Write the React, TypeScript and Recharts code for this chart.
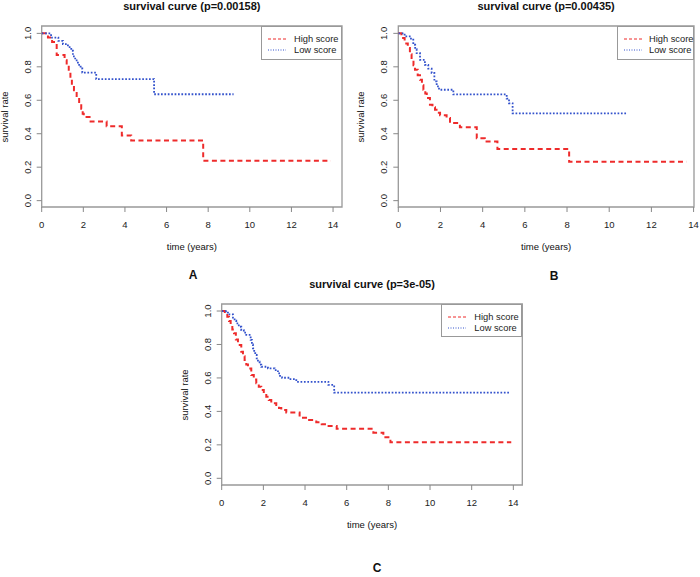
import { LineChart, Line, XAxis, YAxis, ReferenceArea, Legend } from 'recharts';

const FONT = '"Liberation Sans", Arial, Helvetica, sans-serif';
const HIGH_COLOR = '#ee2b2b';
const LOW_COLOR = '#3352cc';
const BOX = '#999';

const timeTicks = [0, 2, 4, 6, 8, 10, 12, 14];
const rateTicks = [0, 0.2, 0.4, 0.6, 0.8, 1.0];
const seriesNames = ['High score', 'Low score'];

// panel A
const aHighTime = [0, 0.3, 0.5, 0.72, 1.1, 1.2, 1.3, 1.38, 1.45, 1.55, 1.68, 1.8, 1.9, 1.97, 2.02, 2.35, 3.12, 3.85, 4.3, 7.76, 13.9];
const aHighRate = [1, 0.975, 0.948, 0.87, 0.84, 0.8, 0.77, 0.73, 0.69, 0.66, 0.62, 0.59, 0.55, 0.52, 0.5, 0.473, 0.444, 0.39, 0.359, 0.239, 0.239];
const aLowTime = [0, 0.45, 0.8, 1.02, 1.26, 1.42, 1.5, 1.61, 1.74, 1.87, 1.95, 2.62, 5.4, 9.22];
const aLowRate = [1, 0.975, 0.955, 0.936, 0.918, 0.896, 0.862, 0.838, 0.812, 0.79, 0.765, 0.727, 0.636, 0.636];

// panel B
const bHighTime = [0, 0.15, 0.3, 0.45, 0.55, 0.63, 0.72, 0.79, 0.92, 1.03, 1.12, 1.19, 1.28, 1.35, 1.5, 1.62, 1.74, 1.86, 1.98, 2.29, 2.45, 2.92, 3.72, 4.1, 4.7, 8.1, 13.67];
const bHighRate = [1, 0.972, 0.94, 0.912, 0.875, 0.842, 0.81, 0.783, 0.75, 0.723, 0.69, 0.663, 0.64, 0.613, 0.573, 0.558, 0.544, 0.525, 0.51, 0.494, 0.464, 0.438, 0.373, 0.353, 0.309, 0.233, 0.233];
const bLowTime = [0, 0.3, 0.6, 0.71, 0.8, 0.87, 1.03, 1.26, 1.42, 1.58, 1.71, 1.82, 1.93, 2.61, 5.14, 5.25, 5.42, 10.82];
const bLowRate = [1, 0.982, 0.962, 0.932, 0.905, 0.882, 0.842, 0.812, 0.789, 0.763, 0.713, 0.683, 0.663, 0.635, 0.61, 0.582, 0.522, 0.522];

// panel C
const cHighTime = [0, 0.15, 0.27, 0.35, 0.43, 0.51, 0.59, 0.68, 0.78, 0.94, 1.02, 1.1, 1.18, 1.26, 1.42, 1.54, 1.66, 1.78, 1.9, 2.02, 2.14, 2.26, 2.38, 2.62, 2.75, 2.86, 3.1, 3.74, 4.14, 4.54, 4.8, 5.04, 5.52, 7.28, 7.76, 8.1, 13.9];
const cHighRate = [1, 0.985, 0.966, 0.94, 0.916, 0.89, 0.867, 0.83, 0.797, 0.757, 0.73, 0.707, 0.68, 0.657, 0.617, 0.59, 0.568, 0.548, 0.528, 0.508, 0.488, 0.468, 0.448, 0.438, 0.42, 0.408, 0.394, 0.362, 0.348, 0.335, 0.323, 0.312, 0.297, 0.273, 0.245, 0.215, 0.215];
const cLowTime = [0, 0.2, 0.3, 0.54, 0.62, 0.7, 0.82, 0.94, 1.06, 1.18, 1.39, 1.45, 1.5, 1.56, 1.61, 1.68, 1.74, 1.82, 1.9, 2.22, 2.54, 2.7, 2.8, 2.9, 3.26, 3.58, 5.12, 5.4, 13.87];
const cLowRate = [1, 0.99, 0.98, 0.96, 0.943, 0.926, 0.906, 0.886, 0.871, 0.857, 0.827, 0.8, 0.777, 0.757, 0.737, 0.717, 0.697, 0.68, 0.667, 0.657, 0.647, 0.627, 0.612, 0.601, 0.593, 0.577, 0.558, 0.512, 0.512];

const zip = (ts: number[], ss: number[]) => ts.map((t, i) => ({ t, s: ss[i] }));

const RateTick = (props: any) => {
  const { x, y, payload } = props;
  return (
    <text x={x} y={y} transform={`rotate(-90 ${x} ${y})`} textAnchor="middle"
      fontSize={9.5} fontFamily={FONT} fill="#222">
      {Number(payload.value).toFixed(1)}
    </text>
  );
};

function Txt({ x, y, children, size = 9.5, bold = false, rotate = false }: any) {
  return (
    <div style={{
      position: 'absolute', left: x, top: y, whiteSpace: 'nowrap',
      transform: `translate(-50%, -50%)${rotate ? ' rotate(-90deg)' : ''}`,
      fontFamily: FONT, fontSize: size, fontWeight: bold ? 'bold' : 'normal', color: '#111', lineHeight: 1,
    }}>{children}</div>
  );
}

const renderLegend = (w: number, h: number, textLeft: number) => () => (
  <div style={{ position: 'relative', width: w, height: h, boxSizing: 'border-box', border: `1px solid ${BOX}`, background: '#fff', fontFamily: FONT, fontSize: 9.3, color: '#222' }}>
    {seriesNames.map((name, i) => (
      <div key={name} style={{ position: 'absolute', left: 6, top: 6 + i * 11, height: 11, display: 'flex', alignItems: 'center', whiteSpace: 'nowrap' }}>
        <svg width={18} height={4} style={{ marginRight: textLeft - 24, flex: 'none' }}>
          <line x1={0} y1={2} x2={18} y2={2} stroke={i === 0 ? HIGH_COLOR : LOW_COLOR} strokeWidth={1}
            strokeDasharray={i === 0 ? '3 2' : '1 1.5'} />
        </svg>
        <span>{name}</span>
      </div>
    ))}
  </div>
);

interface PanelProps {
  left: number; top: number; width: number; height: number;
  margin: { top: number; right: number; bottom: number; left: number };
  xMax: number; yMin: number; yMax: number;
  high: { t: number; s: number }[]; low: { t: number; s: number }[];
  title: string; legendWidth: number; legendHeight: number; legendTextLeft: number;
}

function Panel({ left, top, width, height, margin, xMax, yMin, yMax, high, low, title, legendWidth, legendHeight, legendTextLeft }: PanelProps) {
  const pl = margin.left + 30;
  const pt = margin.top;
  const pr = width - margin.right;
  const pb = height - margin.bottom - 30;
  const cx = (pl + pr) / 2;
  return (
    <div style={{ position: 'absolute', left, top, width, height }}>
      <LineChart width={width} height={height} margin={margin}>
        <XAxis dataKey="t" type="number" domain={[0, xMax]} ticks={timeTicks} allowDataOverflow
          height={30} axisLine={false} tickSize={5} tickMargin={9} tickLine={{ stroke: '#888' }}
          tick={{ fontSize: 9.5, fontFamily: FONT, fill: '#222' }} />
        <YAxis type="number" domain={[yMin, yMax]} ticks={rateTicks} allowDataOverflow
          width={30} axisLine={false} tickSize={5} tickMargin={6} tickLine={{ stroke: '#888' }}
          tick={<RateTick />} />
        <ReferenceArea x1={0} x2={xMax} y1={yMin} y2={yMax} fill="none" stroke={BOX} strokeWidth={1.3} ifOverflow="visible" />
        <Line data={high} dataKey="s" name={seriesNames[0]} type="stepAfter" stroke={HIGH_COLOR} strokeWidth={2}
          strokeDasharray="5 3.5" dot={false} isAnimationActive={false} />
        <Line data={low} dataKey="s" name={seriesNames[1]} type="stepAfter" stroke={LOW_COLOR} strokeWidth={1.8}
          strokeDasharray="1.7 1.7" dot={false} isAnimationActive={false} />
        <Legend layout="vertical" align="center" verticalAlign="middle"
          content={renderLegend(legendWidth, legendHeight, legendTextLeft)}
          wrapperStyle={{ left: pr - legendWidth, top: pt, width: legendWidth, height: legendHeight }} />
      </LineChart>
      <Txt x={cx} y={pt - 20} size={11} bold>{title}</Txt>
      <Txt x={cx} y={pb + 40}>time (years)</Txt>
      <Txt x={pl - 37} y={(pt + pb) / 2} rotate>survival rate</Txt>
    </div>
  );
}

export default function App() {
  return (
    <div style={{ position: 'absolute', left: 0, top: 0, width: 700, height: 577, background: '#fff' }}>
      <Panel left={0} top={0} width={350} height={250}
        margin={{ top: 26, right: 8, bottom: 13, left: 11.7 }}
        xMax={14.43} yMin={-0.038} yMax={1.044}
        high={zip(aHighTime, aHighRate)} low={zip(aLowTime, aLowRate)}
        title="survival curve (p=0.00158)" legendWidth={81} legendHeight={34} legendTextLeft={32} />
      <Panel left={350} top={0} width={350} height={250}
        margin={{ top: 26, right: 6, bottom: 13, left: 18.3 }}
        xMax={14.02} yMin={-0.038} yMax={1.044}
        high={zip(bHighTime, bHighRate)} low={zip(bLowTime, bLowRate)}
        title="survival curve (p=0.00435)" legendWidth={77} legendHeight={34} legendTextLeft={31} />
      <Panel left={180} top={280} width={360} height={250}
        margin={{ top: 24, right: 17.7, bottom: 15, left: 11.7 }}
        xMax={14.43} yMin={-0.04} yMax={1.042}
        high={zip(cHighTime, cHighRate)} low={zip(cLowTime, cLowRate)}
        title="survival curve (p=3e-05)" legendWidth={81} legendHeight={33} legendTextLeft={32} />
      <Txt x={193} y={275} size={12} bold>A</Txt>
      <Txt x={554} y={276} size={12} bold>B</Txt>
      <Txt x={377} y={568} size={12} bold>C</Txt>
    </div>
  );
}
